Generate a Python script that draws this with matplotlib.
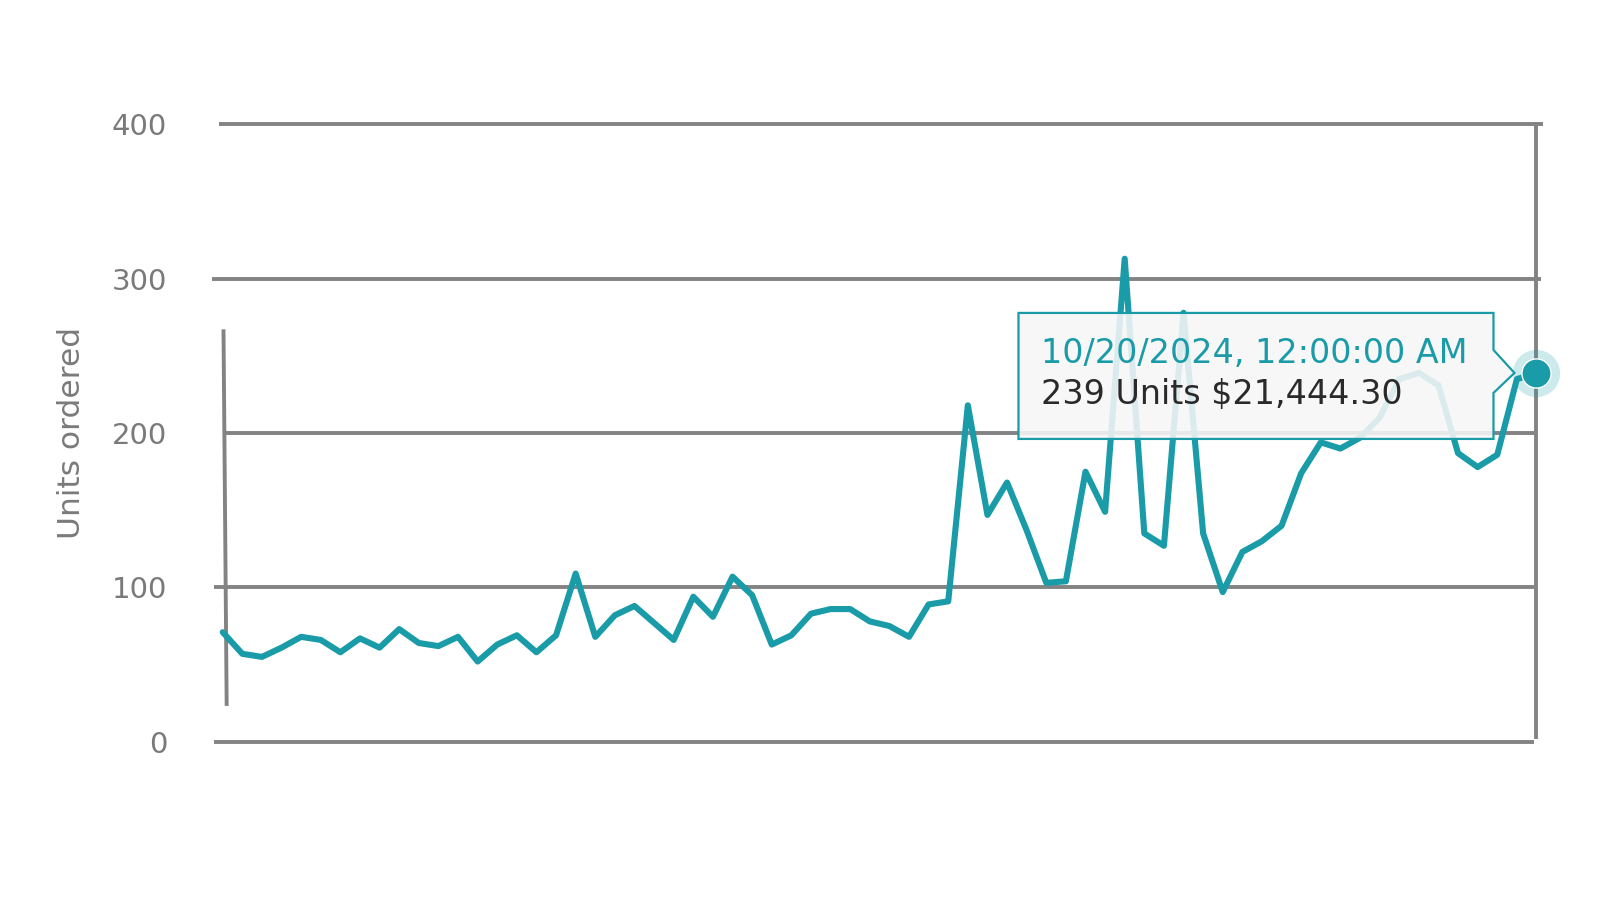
import numpy as np
import pandas as pd
import matplotlib
matplotlib.use('Agg')
import matplotlib.pyplot as plt
import matplotlib.dates as mdates
import matplotlib.transforms as mtransforms
from matplotlib.patches import Polygon

plt.rcParams['font.family'] = ['DejaVu Sans']

# daily units ordered
units = [71, 57, 55, 61, 68, 66, 58, 67, 61, 73,
         64, 62, 68, 52, 63, 69, 58, 69, 109, 68,
         82, 88, 77, 66, 94, 81, 107, 95, 63, 69,
         83, 86, 86, 78, 75, 68, 89, 91, 218, 147,
         168, 137, 103, 104, 175, 149, 313, 135, 127, 278,
         135, 97, 123, 130, 140, 174, 194, 190, 197, 210,
         235, 239, 231, 187, 178, 186, 235, 239]
dates = pd.date_range(end='2024-10-20', periods=len(units), freq='D')
last_sales = 21444.30
yticks = [0, 100, 200, 300, 400]

TEAL = '#1a9ba8'
GRID = '#838383'
TEXT = '#7a7a7a'

fig = plt.figure(figsize=(16, 9), dpi=100)
ax = fig.add_axes([0.1392, 0.1758, 0.8211, 0.6859])
ax.set_xlim(dates[0], dates[-1])
ax.set_ylim(0, 400)
for s in ax.spines.values():
    s.set_visible(False)
ax.set_xticks([])
ax.set_yticks(yticks)
ax.tick_params(axis='y', length=0, pad=40, labelsize=21, labelcolor=TEXT)

# grid lines, slightly ragged like the original screenshot
yt = ax.get_yaxis_transform()
g_start = [-0.0066, -0.0066, 0.0006, -0.0081, -0.0028]
g_end = [0.9983, 0.9983, 0.9983, 1.0035, 1.0050]
for v, a, b in zip(yticks, g_start, g_end):
    ax.plot([a, b], [v, v], color=GRID, lw=2.8, transform=yt,
            clip_on=False, solid_capstyle='butt', zorder=1)
# the two stray vertical rules
ax.plot([0.0006, 0.003], [266, 24.5], color=GRID, lw=2.8, transform=yt,
        clip_on=False, zorder=1)
ax.plot([0.9997, 0.9997], [400, 3], color=GRID, lw=2.8, transform=yt,
        clip_on=False, zorder=1)

ax.set_ylabel('Units ordered', fontsize=22.5, color=TEXT, va='center')
ax.yaxis.set_label_coords(-0.115, 0.5)

ax.plot(dates, units, color=TEAL, lw=4.4, clip_on=False, zorder=3,
        solid_joinstyle='round', solid_capstyle='round')

# highlighted last point
ax.plot(dates[-1], units[-1], 'o', ms=34, color=TEAL, alpha=0.22,
        mec='none', clip_on=False, zorder=4)
ax.plot(dates[-1], units[-1], 'o', ms=21, color=TEAL, mec='white', mew=1,
        clip_on=False, zorder=5)

# tooltip drawn in pixel offsets from the hovered point
tr = mtransforms.IdentityTransform() + mtransforms.ScaledTranslation(
    mdates.date2num(dates[-1]), units[-1], ax.transData)
box = [(-518, 60), (-43, 60), (-43, 23), (-22, 0), (-43, -20),
       (-43, -66), (-518, -66)]
ax.add_patch(Polygon(box, closed=True, transform=tr, facecolor='#f7f7f7',
                     alpha=0.88, edgecolor='none', zorder=6, clip_on=False))
ax.add_patch(Polygon(box, closed=True, transform=tr, facecolor='none',
                     edgecolor=TEAL, lw=1.6, zorder=7, clip_on=False))
ax.text(-495, 19, dates[-1].strftime('%m/%d/%Y') + ', 12:00:00 AM',
        transform=tr, color=TEAL, fontsize=24, va='center', ha='left',
        zorder=8)
ax.text(-495, -22, '{} Units ${:,.2f}'.format(units[-1], last_sales),
        transform=tr, color='#2a2a2a', fontsize=24, va='center', ha='left',
        zorder=8)

fig.savefig('out.png', dpi=100, facecolor='white')
